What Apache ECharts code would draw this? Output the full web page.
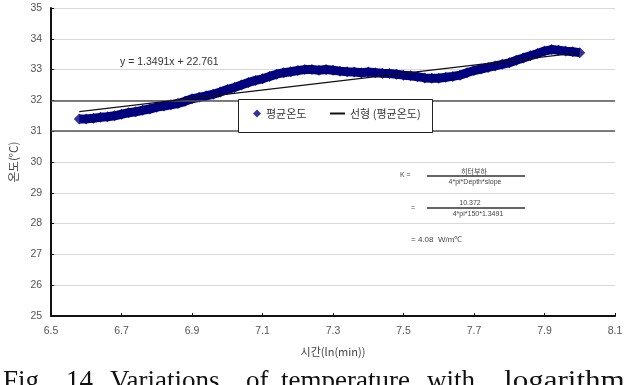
<!DOCTYPE html>
<html>
<head>
<meta charset="utf-8">
<script src="https://cdn.jsdelivr.net/npm/echarts@6/dist/echarts.min.js"></script>
<style>html,body{margin:0;padding:0;background:#fff;}#c{width:627px;height:385px;}</style>
</head>
<body>
<div id="c"></div>
<script>
// ln(min) sample positions
const timeLn = [6.58,6.60,6.62,6.64,6.66,6.68,6.70,6.72,6.74,6.76,6.78,6.80,6.82,6.84,6.86,6.88,6.90,6.92,6.94,6.96,6.98,7.00,7.02,7.04,7.06,7.08,7.10,7.12,7.14,7.16,7.18,7.20,7.22,7.24,7.26,7.28,7.30,7.32,7.34,7.36,7.38,7.40,7.42,7.44,7.46,7.48,7.50,7.52,7.54,7.56,7.58,7.60,7.62,7.64,7.66,7.68,7.70,7.72,7.74,7.76,7.78,7.80,7.82,7.84,7.86,7.88,7.90,7.92,7.94,7.96,7.98,8.00];
// 평균온도 (average temperature, °C)
const avgTemp = [31.40,31.40,31.42,31.45,31.47,31.50,31.55,31.60,31.63,31.68,31.72,31.78,31.82,31.86,31.90,31.97,32.05,32.10,32.15,32.20,32.27,32.35,32.42,32.50,32.58,32.65,32.70,32.78,32.85,32.90,32.93,32.97,33.00,33.00,32.98,33.00,32.98,32.95,32.93,32.92,32.90,32.92,32.90,32.88,32.87,32.85,32.82,32.80,32.77,32.73,32.72,32.72,32.75,32.78,32.82,32.90,32.97,33.02,33.07,33.12,33.17,33.22,33.30,33.38,33.45,33.52,33.60,33.65,33.63,33.60,33.58,33.55];
// 선형 (linear trend y = 1.3491x + 22.761), endpoints
const trendX = [6.58, 8.00];
const trendY = [31.638, 33.554];
const xTicks = ['6.5','6.7','6.9','7.1','7.3','7.5','7.7','7.9','8.1'];
const yRange = [25, 35];
const seriesNames = ['평균온도', '선형 (평균온도)'];

const bandData = timeLn.map((x, i) => [x, avgTemp[i]]);
const trendData = trendX.map((x, i) => [x, trendY[i]]);

const chart = echarts.init(document.getElementById('c'), null, {renderer: 'canvas'});
const lab = {fontFamily: 'Liberation Sans, Arial', fontSize: 10.5, color: '#555'};
const small = {fontFamily: 'Liberation Sans, Arial', fontSize: 7, fill: '#444'};
const cap = {fontFamily: 'Liberation Serif', fontSize: 27, fill: '#111', verticalAlign: 'top'};
const legText = {fontFamily: 'Noto Sans CJK KR', fontSize: 11, color: '#333'};

chart.setOption({
  animation: false,
  backgroundColor: '#fff',
  grid: {left: 45, right: 12, top: 8, bottom: 69},
  xAxis: {
    type: 'value', min: 6.5, max: 8.1, interval: 0.2,
    name: '시간(ln(min))', nameLocation: 'middle', nameGap: 30,
    nameTextStyle: {fontFamily: 'Noto Sans CJK KR', fontSize: 11, color: '#444'},
    axisLine: {lineStyle: {color: '#111', width: 2}},
    axisTick: {show: true, inside: true, length: 3, lineStyle: {color: '#111'}},
    axisLabel: Object.assign({margin: 10, formatter: v => { const s = v.toFixed(1); return xTicks.indexOf(s) >= 0 ? s : ''; }}, lab),
    splitLine: {show: false}
  },
  yAxis: {
    type: 'value', min: yRange[0], max: yRange[1], interval: 1,
    name: '온도(°C)', nameLocation: 'middle', nameGap: 30, nameRotate: 90,
    nameTextStyle: {fontFamily: 'Noto Sans CJK KR', fontSize: 11.5, color: '#444'},
    axisLine: {show: true, lineStyle: {color: '#111', width: 2}},
    axisTick: {show: true, inside: true, length: 3, lineStyle: {color: '#111'}},
    axisLabel: Object.assign({margin: 9}, lab),
    splitLine: {show: true, lineStyle: {color: '#d9d9d9', width: 1}}
  },
  legend: [
    {
      left: 253, top: 108, padding: 0, z: 20,
      itemWidth: 8, itemHeight: 8, itemGap: 0,
      textStyle: legText,
      data: [{name: seriesNames[0], icon: 'diamond'}]
    },
    {
      left: 329, top: 108, padding: 0, z: 20,
      itemWidth: 15, itemHeight: 2, itemGap: 0,
      itemStyle: {opacity: 0},
      textStyle: legText,
      data: [{name: seriesNames[1]}]
    }
  ],
  series: [
    {
      name: seriesNames[0], type: 'scatter', data: bandData,
      symbol: 'diamond', symbolSize: 11, itemStyle: {color: '#00007f'}, z: 3,
      markLine: {
        silent: true, symbol: 'none', label: {show: false},
        lineStyle: {color: '#555', width: 1.5, type: 'solid'},
        data: [{yAxis: 32}, {yAxis: 31}]
      }
    },
    {
      name: seriesNames[0], type: 'line', data: bandData, showSymbol: false, symbol: 'none',
      lineStyle: {color: '#00007f', width: 9, join: 'round'}, itemStyle: {color: '#00007f'}, z: 3
    },
    {
      name: seriesNames[1], type: 'line', data: trendData, showSymbol: false, symbol: 'none',
      lineStyle: {color: '#111', width: 1.2}, itemStyle: {color: '#111'}, z: 5
    }
  ],
  graphic: [
    {type: 'rect', z: 10, shape: {x: 238.5, y: 99.5, width: 194, height: 33}, style: {fill: '#fff', stroke: '#222', lineWidth: 1}},
    {type: 'text', left: 120, top: 57, style: {text: 'y = 1.3491x + 22.761', fontFamily: 'Liberation Sans, Arial', fontSize: 10.5, fill: '#333'}},
    {type: 'text', x: 400, y: 175, style: Object.assign({text: 'K =', verticalAlign: 'middle'}, small)},
    {type: 'line', shape: {x1: 427, y1: 176, x2: 525, y2: 176}, style: {stroke: '#333', lineWidth: 1.3}},
    {type: 'text', x: 474, y: 175, style: Object.assign({text: '히터부하', align: 'center', verticalAlign: 'bottom'}, small, {fontFamily: 'Noto Sans CJK KR', fontSize: 7})},
    {type: 'text', x: 475, y: 179, style: Object.assign({text: '4*pi*Depth*slope', align: 'center', verticalAlign: 'top'}, small)},
    {type: 'text', x: 411, y: 208, style: Object.assign({text: '=', verticalAlign: 'middle'}, small)},
    {type: 'line', shape: {x1: 427, y1: 208, x2: 525, y2: 208}, style: {stroke: '#333', lineWidth: 1.3}},
    {type: 'text', x: 470, y: 207, style: Object.assign({text: '10.372', align: 'center', verticalAlign: 'bottom'}, small)},
    {type: 'text', x: 478, y: 211, style: Object.assign({text: '4*pi*150*1.3491', align: 'center', verticalAlign: 'top'}, small)},
    {type: 'text', x: 411, y: 240, style: Object.assign({text: '= 4.08  W/m℃', verticalAlign: 'middle'}, small, {fontSize: 8})},
    {type: 'text', x: 3, y: 368, style: Object.assign({text: 'Fig.'}, cap)},
    {type: 'text', x: 66, y: 368, style: Object.assign({text: '14'}, cap)},
    {type: 'text', x: 110, y: 368, style: Object.assign({text: 'Variations'}, cap)},
    {type: 'text', x: 246, y: 368, style: Object.assign({text: 'of'}, cap)},
    {type: 'text', x: 281, y: 368, style: Object.assign({text: 'temperature'}, cap)},
    {type: 'text', x: 427, y: 368, style: Object.assign({text: 'with'}, cap)},
    {type: 'text', x: 504, y: 368, style: Object.assign({text: 'logarithm'}, cap), scaleX: 1.15}
  ]
});
</script>
</body>
</html>
